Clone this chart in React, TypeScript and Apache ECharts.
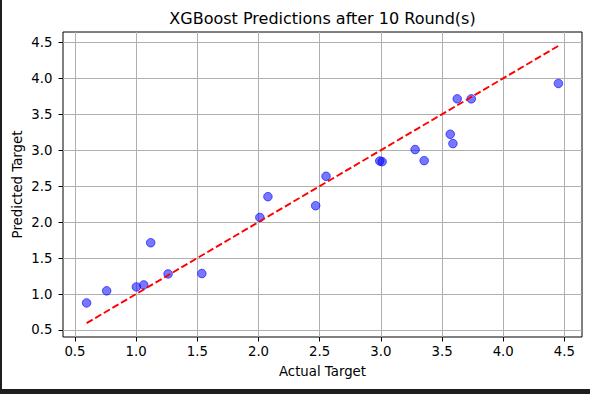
import React, { useEffect, useRef } from "react";
import * as echarts from "echarts";

const actualValues = [0.595, 0.759, 1.002, 1.062, 1.119, 1.261, 1.537, 2.011, 2.077, 2.467, 2.552, 2.991, 3.01, 3.28, 3.354, 3.567, 3.589, 3.624, 3.739, 4.451];
const predictedValues = [0.876, 1.044, 1.099, 1.127, 1.713, 1.28, 1.285, 2.065, 2.354, 2.228, 2.637, 2.85, 2.841, 3.009, 2.855, 3.222, 3.092, 3.714, 3.714, 3.928];
const xTickValues = [0.5, 1.0, 1.5, 2.0, 2.5, 3.0, 3.5, 4.0, 4.5];
const yTickValues = [0.5, 1.0, 1.5, 2.0, 2.5, 3.0, 3.5, 4.0, 4.5];
const titleText = "XGBoost Predictions after 10 Round(s)";
const xLabelText = "Actual Target";
const yLabelText = "Predicted Target";

const FONT = "DejaVu Sans";

export default function App() {
  const ref = useRef<HTMLDivElement>(null);
  useEffect(() => {
    if (!ref.current) return;
    const chart = echarts.init(ref.current, undefined, { renderer: "svg" });
    const lineMin = Math.min(...actualValues);
    const lineMax = Math.max(...actualValues);
    const xLo = Math.min(...actualValues, lineMin);
    const xHi = Math.max(...actualValues, lineMax);
    const yLo = Math.min(...predictedValues, lineMin);
    const yHi = Math.max(...predictedValues, lineMax);
    const xPad = (xHi - xLo) * 0.05;
    const yPad = (yHi - yLo) * 0.05;
    const points = actualValues.map((a, i) => [a, predictedValues[i]]);

    const tickStyle = { show: true, length: 4.5, lineStyle: { color: "#000", width: 1 } };
    const splitStyle = { show: true, lineStyle: { color: "#b0b0b0", width: 1 } };
    const labelStyle = { fontSize: 13.3, fontFamily: FONT, color: "#000", formatter: (v: number) => v.toFixed(1) };

    chart.setOption({
      animation: false,
      backgroundColor: "#fff",
      grid: { left: 63, top: 32, right: 8, bottom: 57, show: true, borderColor: "#000", borderWidth: 1, backgroundColor: "transparent" },
      xAxis: {
        type: "value",
        min: xLo - xPad,
        max: xHi + xPad,
        axisLine: { show: false },
        axisTick: { ...tickStyle, customValues: xTickValues },
        splitLine: splitStyle,
        axisLabel: { ...labelStyle, customValues: xTickValues, margin: 8 },
      },
      yAxis: {
        type: "value",
        min: yLo - yPad,
        max: yHi + yPad,
        axisLine: { show: false },
        axisTick: { ...tickStyle, customValues: yTickValues },
        splitLine: splitStyle,
        axisLabel: { ...labelStyle, customValues: yTickValues, margin: 10.5 },
      },
      graphic: [
        { type: "text", x: 322.5, y: 18, style: { text: titleText, fontSize: 16, fontFamily: FONT, fill: "#000", align: "center", verticalAlign: "middle" } },
        { type: "text", x: 322.5, y: 371.4, style: { text: xLabelText, fontSize: 13.3, fontFamily: FONT, fill: "#000", align: "center", verticalAlign: "middle" } },
        { type: "text", x: 17.4, y: 184.5, rotation: Math.PI / 2, style: { text: yLabelText, fontSize: 13.3, fontFamily: FONT, fill: "#000", align: "center", verticalAlign: "middle" } },
      ],
      series: [
        {
          type: "scatter",
          data: points,
          symbolSize: 8.5,
          itemStyle: { color: "rgba(0,0,255,0.66)", borderColor: "rgba(0,0,255,0.8)", borderWidth: 1 },
          z: 2,
        },
        {
          type: "line",
          data: [[lineMin, lineMin], [lineMax, lineMax]],
          symbol: "none",
          lineStyle: { color: "#ff0000", width: 1.9, type: [7, 3] },
          z: 3,
        },
      ],
    });
    return () => chart.dispose();
  }, []);
  return (
    <div style={{ position: "fixed", left: 0, top: 0, width: 590, height: 394, background: "#fff", overflow: "hidden" }}>
      <div ref={ref} style={{ position: "absolute", left: 0, top: 0, width: 590, height: 394 }} />
      <div style={{ position: "absolute", left: 0, top: 0, width: 2, height: 394, background: "#1e1e1e" }} />
      <div style={{ position: "absolute", left: 0, top: 389, width: 590, height: 5, background: "#1e1e1e" }} />
    </div>
  );
}
